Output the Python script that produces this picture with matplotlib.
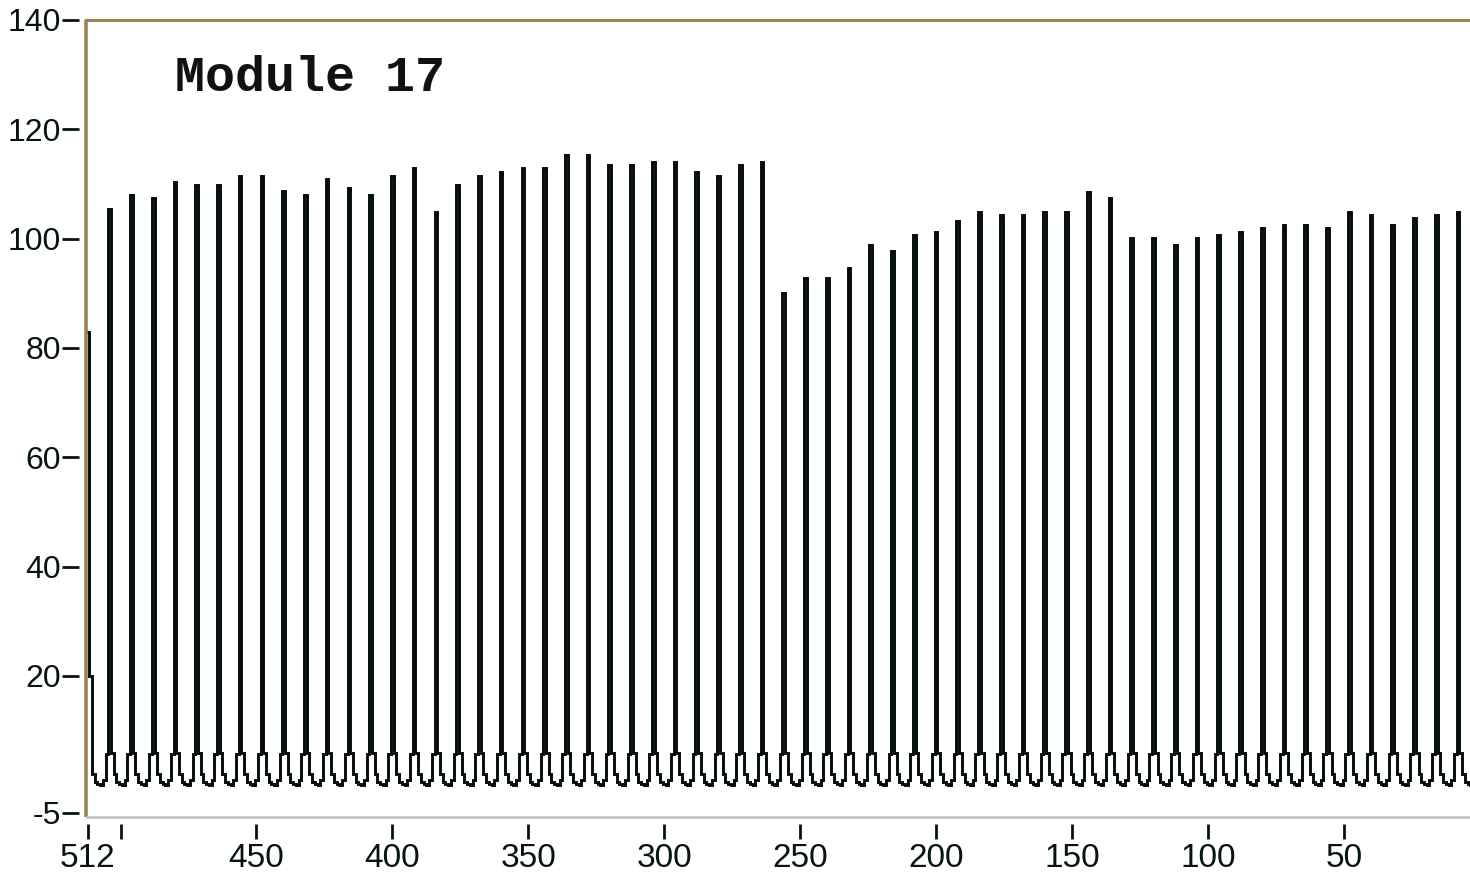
import numpy as np
import matplotlib
matplotlib.use("Agg")
import matplotlib.pyplot as plt

# Peak height of each pulse, from sample 512 down to sample 8 (one every 8 samples)
peaks = [83.0,
         105.4, 108.0, 107.5, 110.4, 109.8, 109.8, 111.5, 111.5, 108.7, 108.0,
         110.9, 109.3, 108.0, 111.5, 112.9, 104.9, 109.8, 111.5, 112.2, 112.9,
         112.9, 115.3, 115.3, 113.5, 113.5, 114.0, 114.0, 112.2, 111.5, 113.5,
         114.0, 90.1, 92.8, 92.8, 94.7, 98.9, 97.8, 100.7, 101.2, 103.2,
         104.9, 104.3, 104.3, 104.9, 104.9, 108.5, 107.5, 100.1, 100.1, 98.9,
         100.1, 100.7, 101.2, 102.0, 102.5, 102.5, 102.0, 104.9, 104.3, 102.5,
         103.8, 104.3, 104.9]

# Seven samples that follow every pulse (recovery dip and the small pre-pulse bump)
between = [6.0, 2.0, 0.6, 0.3, 0.0, 1.0, 5.8]
first_after = 20.0

y_ticks = [140, 120, 100, 80, 60, 40, 20, -5]
x_ticks = [512, 500, 450, 400, 350, 300, 250, 200, 150, 100, 50]
x_labels = ['512', '', '450', '400', '350', '300', '250', '200', '150', '100', '50']

# assemble the 512-sample trace
trace = []
for k, p in enumerate(peaks):
    seg = [p] + list(between)
    if k == 0:
        seg[1] = first_after
    trace.extend(seg)
trace = np.array(trace)
samples = np.arange(512, 512 - len(trace), -1)

fig = plt.figure(figsize=(14.7, 8.73), dpi=100)
ax = fig.add_axes([0.0585, 0.0641, 0.9415, 0.913])

ax.plot(samples, trace, color='#050c0c', lw=2.1, drawstyle='steps-mid',
        solid_joinstyle='miter')

ax.set_xlim(512.7, 3.6)
ax.set_ylim(-5.8, 140)

# frame: brown left/top edge, grey bottom edge, ticks set slightly apart
for side in ['left', 'bottom']:
    ax.spines[side].set_position(('outward', 5))
    ax.spines[side].set_color('none')
ax.spines['right'].set_visible(False)
ax.spines['top'].set_color('#9a8452')
ax.spines['top'].set_linewidth(2.2)
ax.plot([0, 0], [0, 1], transform=ax.transAxes, color='#9a8452', lw=2.6,
        clip_on=False, solid_capstyle='butt')
ax.plot([0, 1], [0, 0], transform=ax.transAxes, color='#c4c4c4', lw=2.0,
        clip_on=False, solid_capstyle='butt')

num_font = ['Liberation Sans Narrow', 'Liberation Sans', 'DejaVu Sans']
ax.set_yticks(y_ticks)
ax.set_yticklabels([str(v) for v in y_ticks], family=num_font, fontsize=23,
                   color='#061414')
ax.set_xticks(x_ticks)
ax.set_xticklabels(x_labels, family=num_font, fontsize=24, color='#061414')
ax.tick_params(axis='y', direction='out', length=12, width=2, pad=1,
               color='#061414')
ax.tick_params(axis='x', direction='out', length=11, width=2, pad=3,
               color='#061414')

ax.text(0.0643, 0.927, 'Module 17', transform=ax.transAxes,
        family=['Liberation Mono', 'DejaVu Sans Mono'], fontweight='bold',
        fontsize=36, color='#111111', ha='left', va='center')

fig.savefig('out.png', dpi=100)
